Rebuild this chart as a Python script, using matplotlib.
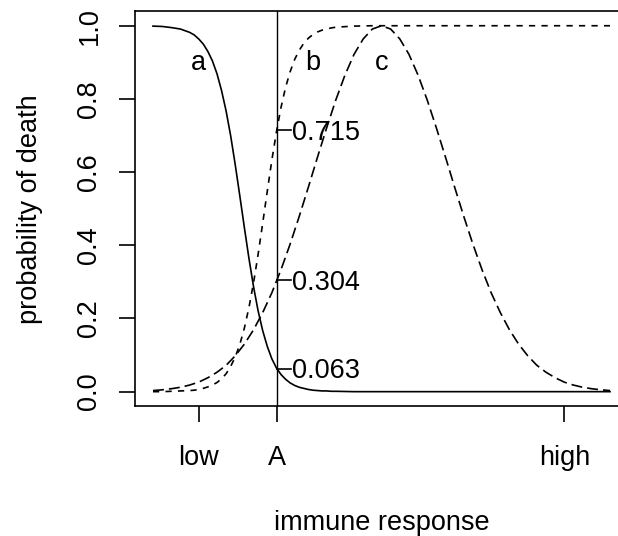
import matplotlib
matplotlib.use("Agg")
import matplotlib.pyplot as plt

plt.rcParams['font.family'] = ['Liberation Sans', 'DejaVu Sans']
plt.rcParams['lines.scale_dashes'] = False

# immune response grid for curves a and b
resp_ab = [0.00, 0.02, 0.04, 0.06,
           0.08, 0.09, 0.10, 0.11, 0.12, 0.13, 0.14, 0.15, 0.16, 0.17, 0.18,
           0.19, 0.20, 0.21, 0.22, 0.23, 0.24, 0.25, 0.26, 0.27, 0.28, 0.29,
           0.30, 0.31, 0.32, 0.33, 0.34, 0.35, 0.36, 0.37, 0.38, 0.39, 0.40,
           0.44, 0.48, 0.52, 0.56, 0.60, 0.64, 0.68, 0.72, 0.76, 0.80, 0.84,
           0.88, 0.92, 0.96, 1.00]
death_a = [0.999, 0.998, 0.995, 0.991,
           0.982, 0.975, 0.964, 0.950, 0.930, 0.904, 0.869, 0.823, 0.767, 0.699, 0.620,
           0.535, 0.448, 0.364, 0.287, 0.221, 0.167, 0.124, 0.090, 0.065, 0.047, 0.034,
           0.024, 0.017, 0.012, 0.009, 0.006, 0.004, 0.003, 0.002, 0.002, 0.001, 0.001,
           0.000, 0.000, 0.000, 0.000, 0.000, 0.000, 0.000, 0.000, 0.000, 0.000, 0.000,
           0.000, 0.000, 0.000, 0.000]
death_b = [0.000, 0.000, 0.001, 0.002,
           0.003, 0.004, 0.006, 0.009, 0.013, 0.018, 0.025, 0.035, 0.049, 0.069, 0.095,
           0.129, 0.174, 0.230, 0.297, 0.375, 0.460, 0.547, 0.632, 0.709, 0.776, 0.831,
           0.874, 0.908, 0.933, 0.952, 0.966, 0.976, 0.983, 0.988, 0.991, 0.994, 0.996,
           0.999, 1.000, 1.000, 1.000, 1.000, 1.000, 1.000, 1.000, 1.000, 1.000, 1.000,
           1.000, 1.000, 1.000, 1.000]

# curve c
resp_c = [0.00, 0.02, 0.04, 0.06, 0.08, 0.10, 0.12, 0.14, 0.16, 0.18,
          0.20, 0.22, 0.24, 0.26, 0.28, 0.30, 0.32, 0.34, 0.36, 0.38,
          0.40, 0.42, 0.44, 0.46, 0.48, 0.50, 0.52, 0.54, 0.56, 0.58,
          0.60, 0.62, 0.64, 0.66, 0.68, 0.70, 0.72, 0.74, 0.76, 0.78,
          0.80, 0.82, 0.84, 0.86, 0.88, 0.90, 0.92, 0.94, 0.96, 0.98, 1.00]
death_c = [0.003, 0.005, 0.008, 0.012, 0.018, 0.026, 0.038, 0.053, 0.072, 0.098,
           0.130, 0.169, 0.216, 0.270, 0.333, 0.403, 0.479, 0.559, 0.641, 0.721,
           0.797, 0.865, 0.922, 0.964, 0.991, 1.000, 0.991, 0.964, 0.922, 0.865,
           0.797, 0.721, 0.641, 0.559, 0.479, 0.403, 0.333, 0.270, 0.216, 0.169,
           0.130, 0.098, 0.072, 0.053, 0.038, 0.026, 0.018, 0.012, 0.008, 0.005, 0.003]

A = 0.271
xticks = [0.1, A, 0.9]
xticklabels = ['low', 'A', 'high']
yticks = [0.0, 0.2, 0.4, 0.6, 0.8, 1.0]
yticklabels = ['0.0', '0.2', '0.4', '0.6', '0.8', '1.0']
at_A = [0.063, 0.304, 0.715]
at_A_labels = ['0.063', '0.304', '0.715']
names = ['a', 'b', 'c']
name_x = [0.1, 0.35, 0.5]

FS = 19.5
LW = 1.2
W, H = 618, 536

fig = plt.figure(figsize=(W / 100, H / 100), dpi=100)
# plot region in pixels (R style 4% padding, right side runs off the figure)
left, right, top, bottom = 134.7, 628.3, 11.1, 406.3
ax = fig.add_axes([left / W, 1 - bottom / H, (right - left) / W, (bottom - top) / H])
ax.set_xlim(-0.04, 1.04)
ax.set_ylim(-0.04, 1.04)

ax.plot(resp_ab, death_a, color='black', lw=LW, solid_joinstyle='round')
ax.plot(resp_ab, death_b, color='black', lw=LW, dashes=(4.5, 4.5))
ax.plot(resp_c, death_c, color='black', lw=LW, dashes=(7.9, 3.6))
ax.axvline(A, color='black', lw=1.0)

for nm, x in zip(names, name_x):
    ax.text(x, 0.879, nm, ha='center', va='baseline', fontsize=FS)

for v, lab in zip(at_A, at_A_labels):
    ax.plot([A, A + 0.0315], [v, v], color='black', lw=LW)
    ax.annotate(lab, xy=(A, v), xytext=(11.2, -7.0), textcoords='offset points',
                ha='left', va='baseline', fontsize=FS)

for s in ['left', 'bottom', 'top']:
    ax.spines[s].set_linewidth(LW)
ax.spines['right'].set_visible(False)

ax.set_xticks(xticks)
ax.set_xticklabels(xticklabels)
ax.set_yticks(yticks)
ax.set_yticklabels(yticklabels, rotation=90, va='center')
ax.tick_params(axis='both', direction='out', length=11.5, width=LW, labelsize=FS)
ax.tick_params(axis='x', pad=16.6)
ax.tick_params(axis='y', pad=11.7)

fig.text(((left + right) / 2) / W, 1 - 530 / H, 'immune response', ha='center',
         va='baseline', fontsize=FS)
fig.text(36.7 / W, 1 - ((top + bottom) / 2) / H, 'probability of death', rotation=90,
         rotation_mode='anchor', ha='center', va='baseline', fontsize=FS)

fig.savefig('out.png', dpi=100)
